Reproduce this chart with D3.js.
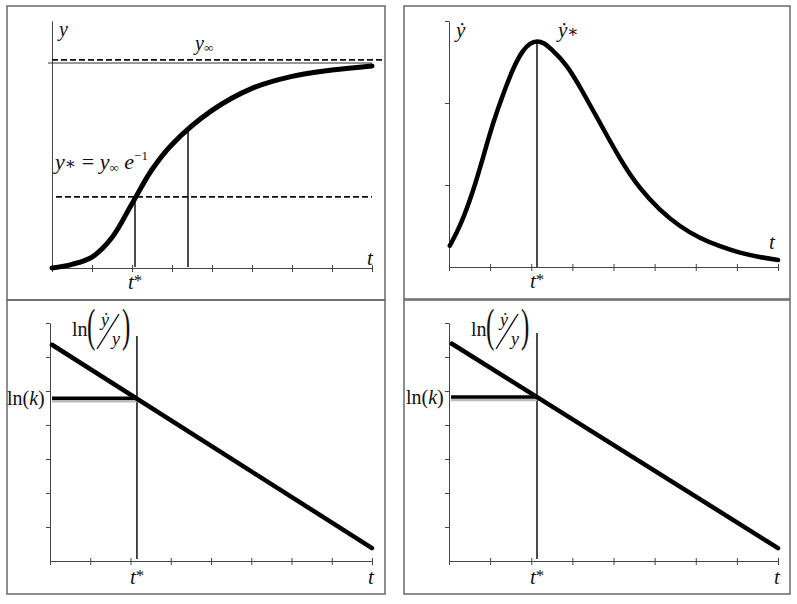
<!DOCTYPE html>
<html>
<head>
<meta charset="utf-8">
<script src="https://cdn.jsdelivr.net/npm/d3@7"></script>
<style>
  body { margin: 0; background: #fff; }
  svg { display: block; }
  text { font-family: "Liberation Serif", "DejaVu Serif", serif; fill: #111; }
  .it { font-style: italic; }
</style>
</head>
<body>
<script>
// values (t in tick units 0..8)
var tTicks = [0, 1, 2, 3, 4, 5, 6, 7, 8];

// top-left: y(t)
var gT = [0, 0.5, 1, 1.5, 2, 2.5, 3, 4, 5, 6, 7, 8];
var gY = [0, 0.018, 0.053, 0.148, 0.312, 0.478, 0.6, 0.765, 0.872, 0.93, 0.961, 0.981];
var gStar = 2.075, gMark = 3.4, gMarkY = 0.665;
var yInf = 1.01, yTopLine = 0.995, yStar = 0.345;

// top-right: dy/dt
var rT = [0.02, 0.27, 0.58, 0.83, 1.07, 1.31, 1.56, 1.80, 1.97, 2.14, 2.32, 2.46, 2.87, 3.26, 3.67, 4.16, 4.64, 5.13, 5.62, 6.10, 6.59, 7.08, 7.56, 8.0];
var rV = [0.26, 0.49, 0.91, 1.34, 1.76, 2.1, 2.43, 2.65, 2.73, 2.76, 2.73, 2.67, 2.47, 2.13, 1.76, 1.31, 0.95, 0.69, 0.49, 0.35, 0.25, 0.17, 0.12, 0.085];
var rStar = 2.14, rPeak = 2.74;

// bottom: ln(ydot / y)
var blT = [0.05, 8], blV = [6.36, 0.38], blStar = 2.16, blK = 4.79;
var brT = [0.07, 8], brV = [6.39, 0.38], brStar = 2.14, brK = 4.82;
var lnTicks = [1, 2, 3, 4, 5, 6, 7];
var rTicks = [1, 2, 3];

var svg = d3.select("body").append("svg")
  .attr("width", 797).attr("height", 604);

// panel frames
var frames = [[7, 6, 378, 294], [7, 300, 378, 294], [404, 6, 386, 293], [404, 300, 386, 294]];
svg.selectAll("rect.frame").data(frames).enter().append("rect")
  .attr("class", "frame")
  .attr("x", d => d[0]).attr("y", d => d[1])
  .attr("width", d => d[2]).attr("height", d => d[3])
  .attr("fill", "none").attr("stroke", "#6a6a6a").attr("stroke-width", 1.5);

function xAxis(g, x, y0) {
  var a = g.append("g").attr("transform", "translate(0," + y0 + ")")
    .call(d3.axisBottom(x).tickValues(tTicks).tickSize(4).tickSizeOuter(0).tickFormat(""));
  a.selectAll(".tick line").attr("y1", -3).attr("stroke", "#444");
  a.select(".domain").attr("stroke", "#444");
}
function yAxis(g, y, x0, ticks) {
  var a = g.append("g").attr("transform", "translate(" + x0 + ",0)")
    .call(d3.axisLeft(y).tickValues(ticks).tickSize(4).tickSizeOuter(0).tickFormat(""));
  a.selectAll(".tick line").attr("stroke", "#444");
  a.select(".domain").attr("stroke", "#444");
}
function zip(a, b) { return a.map((v, i) => [v, b[i]]); }

function label(g, x, y, parts, size) {
  var t = g.append("text").attr("x", x).attr("y", y).attr("font-size", size || 20);
  parts.forEach(function (p) {
    var s = t.append("tspan").text(p.t);
    if (p.it) s.attr("class", "it");
    if (p.fs) s.attr("font-size", p.fs);
    if (p.dy) s.attr("dy", p.dy);
    if (p.dx) s.attr("dx", p.dx);
  });
  return t;
}
function tStarLabel(g, cx, y) {
  label(g, cx - 7, y, [{ t: "t", it: true }, { t: "*", fs: 17, dy: -3 }], 21);
}

// ---------- top-left ----------
(function () {
  var g = svg.append("g");
  var x = d3.scaleLinear().domain([0, 8]).range([52, 372]);
  var y = d3.scaleLinear().domain([0, 1.2]).range([268, 20.8]);
  yAxis(g, y, 52, []);
  xAxis(g, x, 268);

  g.append("line").attr("x1", 48).attr("x2", x(8))
    .attr("y1", y(yTopLine)).attr("y2", y(yTopLine))
    .attr("stroke", "#333").attr("stroke-width", 1);
  g.append("line").attr("x1", x(0)).attr("x2", x(8.25))
    .attr("y1", y(yInf)).attr("y2", y(yInf))
    .attr("stroke", "#111").attr("stroke-width", 1.8).attr("stroke-dasharray", "6,3");
  g.append("line").attr("x1", x(0.1)).attr("x2", x(8))
    .attr("y1", y(yStar)).attr("y2", y(yStar))
    .attr("stroke", "#111").attr("stroke-width", 1.8).attr("stroke-dasharray", "6,3");

  g.append("line").attr("x1", x(gStar)).attr("x2", x(gStar))
    .attr("y1", y(yStar)).attr("y2", y(0) - 1)
    .attr("stroke", "#111").attr("stroke-width", 1.5);
  g.append("line").attr("x1", x(gMark)).attr("x2", x(gMark))
    .attr("y1", y(gMarkY)).attr("y2", y(0) - 1)
    .attr("stroke", "#111").attr("stroke-width", 1.5);

  g.append("path").datum(zip(gT, gY))
    .attr("fill", "none").attr("stroke", "#000").attr("stroke-width", 5)
    .attr("stroke-linecap", "round")
    .attr("d", d3.line().x(d => x(d[0])).y(d => y(d[1])).curve(d3.curveCatmullRom.alpha(0.5)));

  label(g, 59, 36, [{ t: "y", it: true }]);
  label(g, 195, 50, [{ t: "y", it: true }, { t: "∞", fs: 13, dy: 2 }]);
  label(g, 55, 169, [
    { t: "y", it: true }, { t: "∗", fs: 17 },
    { t: " = " }, { t: "y", it: true },
    { t: "∞", fs: 13, dy: 3 }, { t: " e", it: true, dy: -3 },
    { t: "−1", fs: 13, dy: -9 }
  ], 22);
  label(g, 367, 265, [{ t: "t", it: true }], 21);
  tStarLabel(g, x(gStar), 289);
})();

// ---------- top-right ----------
(function () {
  var g = svg.append("g");
  var x = d3.scaleLinear().domain([0, 8]).range([449, 778]);
  var y = d3.scaleLinear().domain([0, 3]).range([267, 21]);
  yAxis(g, y, 449, rTicks);
  xAxis(g, x, 267);

  g.append("line").attr("x1", x(rStar)).attr("x2", x(rStar))
    .attr("y1", y(rPeak)).attr("y2", y(0))
    .attr("stroke", "#111").attr("stroke-width", 1.5);

  g.append("path").datum(zip(rT, rV))
    .attr("fill", "none").attr("stroke", "#000").attr("stroke-width", 4.5)
    .attr("stroke-linecap", "round")
    .attr("d", d3.line().x(d => x(d[0])).y(d => y(d[1])).curve(d3.curveBasis));

  label(g, 456, 37, [{ t: "ẏ", it: true }], 21);
  label(g, 558, 37, [{ t: "ẏ", it: true }, { t: "∗", fs: 17 }], 21);
  label(g, 769, 249, [{ t: "t", it: true }], 21);
  tStarLabel(g, x(rStar), 288);
})();

// ---------- bottom panels ----------
function lnPanel(x0, x1, T, V, tStar, kVal, vTopPx) {
  var g = svg.append("g");
  var x = d3.scaleLinear().domain([0, 8]).range([x0, x1]);
  var y = d3.scaleLinear().domain([0, 7]).range([561, 323]);
  yAxis(g, y, x0, lnTicks);
  xAxis(g, x, 561);

  g.append("line").attr("x1", x(tStar)).attr("x2", x(tStar))
    .attr("y1", vTopPx).attr("y2", y(0) - 2)
    .attr("stroke", "#111").attr("stroke-width", 1.5);

  // ln(k) level
  g.append("line").attr("x1", x0 + 2).attr("x2", x(tStar))
    .attr("y1", y(kVal) + 3).attr("y2", y(kVal) + 3)
    .attr("stroke", "#bbb").attr("stroke-width", 2.5);
  g.append("line").attr("x1", x0 + 2).attr("x2", x(tStar))
    .attr("y1", y(kVal)).attr("y2", y(kVal))
    .attr("stroke", "#000").attr("stroke-width", 3.5);

  g.append("path").datum(zip(T, V))
    .attr("fill", "none").attr("stroke", "#000").attr("stroke-width", 4.5)
    .attr("stroke-linecap", "round")
    .attr("d", d3.line().x(d => x(d[0])).y(d => y(d[1])));

  label(g, x0 - 43, y(kVal) + 7, [{ t: "ln(" }, { t: "k", it: true }, { t: ")" }], 20);

  // ln( ydot / y ) title
  var lx = x0 + 22;
  label(g, lx, 336, [{ t: "ln" }]);
  g.append("text").attr("transform", "translate(" + (lx + 15) + ",341) scale(1,1.9)")
    .attr("font-size", 25).text("(");
  g.append("text").attr("transform", "translate(" + (lx + 50) + ",341) scale(1,1.9)")
    .attr("font-size", 25).text(")");
  g.append("text").attr("class", "it").attr("x", lx + 29).attr("y", 326).attr("font-size", 18).text("ẏ");
  g.append("text").attr("class", "it").attr("x", lx + 40).attr("y", 345).attr("font-size", 18).text("y");
  g.append("line").attr("x1", lx + 25).attr("y1", 349).attr("x2", lx + 47).attr("y2", 314)
    .attr("stroke", "#111").attr("stroke-width", 1.4);

  tStarLabel(g, x(tStar), 584);
  label(g, x1 - 4, 584, [{ t: "t", it: true }], 21);
}
lnPanel(50, 372, blT, blV, blStar, blK, 336);
lnPanel(449, 778, brT, brV, brStar, brK, 333);
</script>
</body>
</html>
